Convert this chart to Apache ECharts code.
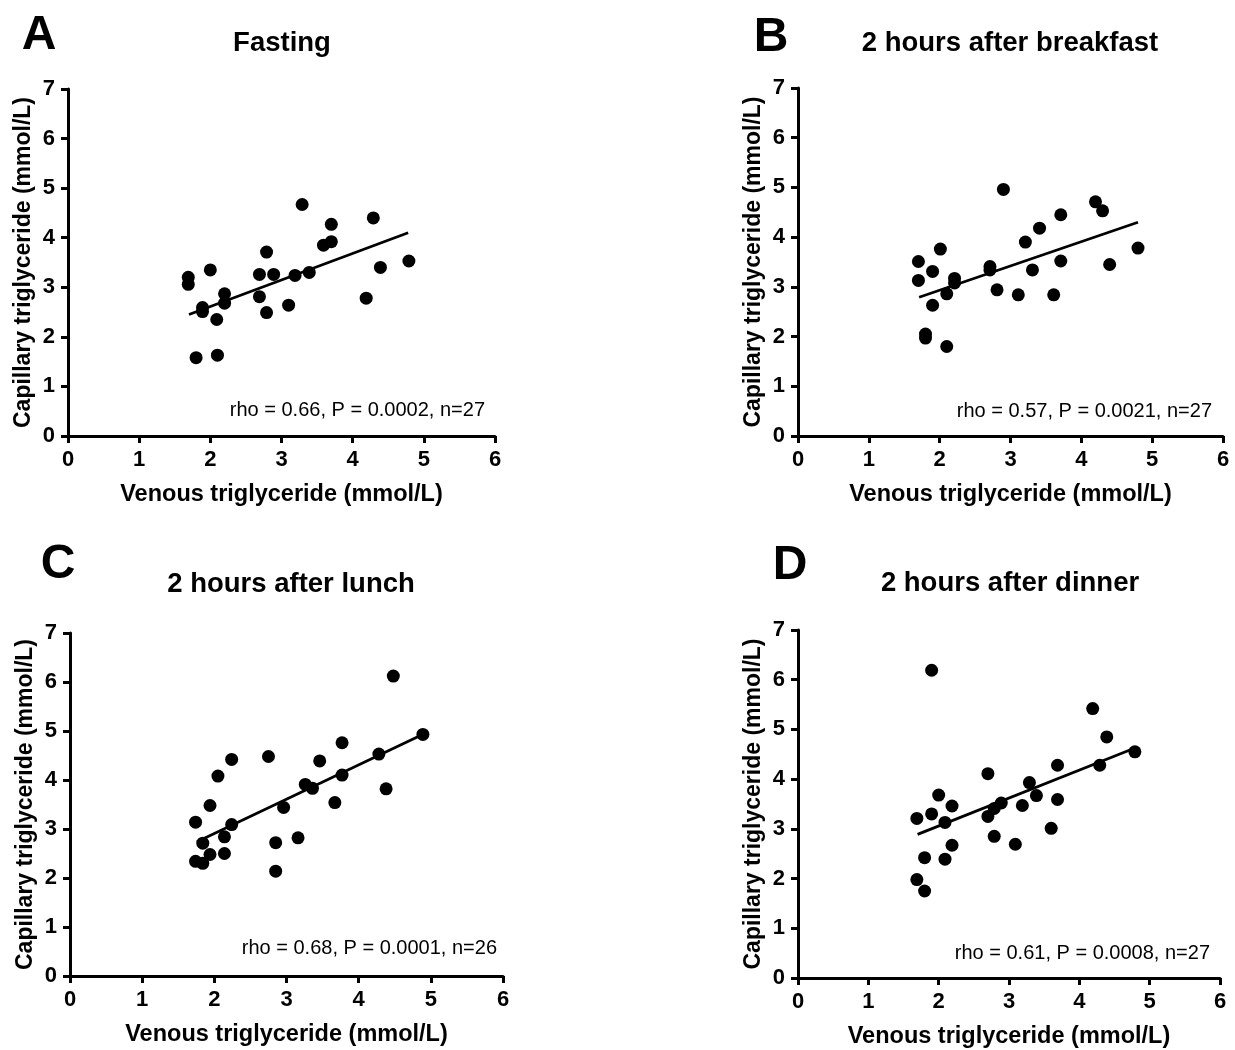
<!DOCTYPE html>
<html>
<head>
    <meta charset="utf-8">
    <title>Capillary vs venous triglyceride</title>
    <script src="https://cdn.jsdelivr.net/npm/echarts@6/dist/echarts.min.js"></script>
    <style>
        html, body { margin: 0; padding: 0; background: #fff; }
        #chart { width: 1235px; height: 1050px; }
    </style>
</head>
<body>
<div id="chart"></div>
<script type="text/javascript">
    // A - fasting
    var aX = [1.69, 1.69, 2.00, 1.89, 1.89, 2.09, 2.20, 2.20, 1.80, 2.10, 2.69, 2.69, 2.79,
              2.79, 2.89, 3.10, 3.19, 3.29, 3.39, 3.59, 3.70, 3.70, 4.19, 4.29, 4.39, 4.79];
    var aY = [3.20, 3.06, 3.35, 2.59, 2.51, 2.35, 2.87, 2.68, 1.58, 1.63, 3.26, 2.81, 3.71,
              2.49, 3.26, 2.64, 3.24, 4.67, 3.30, 3.85, 3.92, 4.27, 2.78, 4.40, 3.40, 3.53];
    var aFit = [[1.70, 2.45], [4.78, 4.10]];

    // B - 2 hours after breakfast
    var bX = [1.70, 1.70, 1.90, 1.90, 2.01, 1.80, 1.80, 2.10, 2.10, 2.21, 2.21, 2.71, 2.71,
              2.81, 2.90, 3.11, 3.21, 3.31, 3.41, 3.61, 3.71, 3.71, 4.20, 4.30, 4.40, 4.80];
    var bY = [3.51, 3.13, 3.31, 2.63, 3.76, 2.05, 1.97, 2.86, 1.80, 3.17, 3.08, 3.41, 3.34,
              2.94, 4.96, 2.84, 3.90, 3.34, 4.18, 2.84, 4.45, 3.52, 4.71, 4.53, 3.45, 3.78];
    var bFit = [[1.71, 2.79], [4.80, 4.30]];

    // C - 2 hours after lunch
    var cX = [1.74, 1.74, 1.84, 1.84, 1.94, 1.94, 2.05, 2.14, 2.14, 2.24, 2.24, 2.75, 2.85,
              2.85, 2.96, 3.16, 3.26, 3.36, 3.46, 3.67, 3.77, 3.77, 4.28, 4.38, 4.48, 4.89];
    var cY = [3.14, 2.34, 2.71, 2.30, 3.48, 2.48, 4.08, 2.84, 2.50, 4.42, 3.09, 4.48, 2.72,
              2.14, 3.44, 2.82, 3.91, 3.83, 4.39, 3.54, 4.76, 4.10, 4.53, 3.82, 6.12, 4.93];
    var cFit = [[1.76, 2.74], [4.90, 4.94]];

    // D - 2 hours after dinner
    var dX = [1.90, 1.69, 1.69, 1.80, 1.80, 1.90, 2.00, 2.09, 2.09, 2.19, 2.19, 2.70, 2.70, 2.79,
              2.79, 2.89, 3.09, 3.19, 3.29, 3.39, 3.60, 3.69, 3.69, 4.19, 4.29, 4.39, 4.79];
    var dY = [6.19, 3.21, 1.98, 2.42, 1.75, 3.30, 3.68, 3.13, 2.39, 3.46, 2.67, 4.11, 3.25, 3.41,
              2.85, 3.52, 2.69, 3.47, 3.93, 3.67, 3.01, 4.28, 3.59, 5.42, 4.28, 4.85, 4.55];
    var dFit = [[1.70, 2.89], [4.80, 4.63]];

    var panelLetters = ['A', 'B', 'C', 'D'];
    var panelTitles = ['Fasting', '2 hours after breakfast', '2 hours after lunch', '2 hours after dinner'];
    var statTexts = ['rho = 0.66, P = 0.0002, n=27', 'rho = 0.57, P = 0.0021, n=27',
                     'rho = 0.68, P = 0.0001, n=26', 'rho = 0.61, P = 0.0008, n=27'];
    var xTicks = [0, 6, 1];   // min, max, step
    var yTicks = [0, 7, 1];

    var FONT = '"Liberation Sans", Arial, Helvetica, sans-serif';

    function pairs(xs, ys) {
        var out = [];
        for (var i = 0; i < xs.length; i++) {
            out.push([xs[i], ys[i]]);
        }
        return out;
    }

    var grids = [
        {left: 68, top: 89, width: 427, height: 347},
        {left: 798, top: 88, width: 425, height: 348},
        {left: 70, top: 633, width: 433, height: 343},
        {left: 798, top: 630, width: 422, height: 350}
    ];

    var axisLineStyle = {color: '#000', width: 3};
    var xAxes = [], yAxes = [], series = [];
    var scatterData = [pairs(aX, aY), pairs(bX, bY), pairs(cX, cY), pairs(dX, dY)];
    var fits = [aFit, bFit, cFit, dFit];

    for (var i = 0; i < 4; i++) {
        xAxes.push({
            type: 'value', gridIndex: i,
            min: xTicks[0], max: xTicks[1], interval: xTicks[2],
            axisLine: {show: true, onZero: false, lineStyle: axisLineStyle},
            axisTick: {show: true, length: 7, lineStyle: {color: '#000', width: 3}},
            axisLabel: {color: '#000', fontSize: 22, fontWeight: 'bold', fontFamily: FONT, margin: 13},
            splitLine: {show: false},
            name: 'Venous triglyceride (mmol/L)',
            nameLocation: 'middle', nameGap: 47,
            nameTextStyle: {color: '#000', fontSize: 23.5, fontWeight: 'bold', fontFamily: FONT}
        });
        yAxes.push({
            type: 'value', gridIndex: i,
            min: yTicks[0], max: yTicks[1], interval: yTicks[2],
            axisLine: {show: true, onZero: false, lineStyle: axisLineStyle},
            axisTick: {show: true, length: 7, lineStyle: {color: '#000', width: 3}},
            axisLabel: {color: '#000', fontSize: 22, fontWeight: 'bold', fontFamily: FONT, margin: 13},
            splitLine: {show: false},
            name: 'Capillary triglyceride (mmol/L)',
            nameLocation: 'middle', nameGap: 33,
            nameTextStyle: {color: '#000', fontSize: 23, fontWeight: 'bold', fontFamily: FONT}
        });
        series.push({
            type: 'scatter', xAxisIndex: i, yAxisIndex: i,
            data: scatterData[i], symbol: 'circle', symbolSize: 13,
            itemStyle: {color: '#000', opacity: 1}, z: 3
        });
        series.push({
            type: 'line', xAxisIndex: i, yAxisIndex: i,
            data: fits[i], showSymbol: false, symbol: 'none',
            lineStyle: {color: '#000', width: 2.8}, z: 2
        });
    }

    // letters, titles and stat labels
    var letterPos = [[39, 36], [771, 38], [58, 565], [790, 566]];
    var titlePos = [[282, 43], [1010, 43], [291, 584], [1010, 583]];
    var statPos = [[485, 410], [1212, 411], [497, 948], [1210, 953]];
    var graphics = [];
    for (var k = 0; k < 4; k++) {
        graphics.push({
            type: 'text', x: letterPos[k][0], y: letterPos[k][1],
            style: {text: panelLetters[k], fill: '#000', font: 'bold 48px ' + FONT,
                    textAlign: 'center', textVerticalAlign: 'middle'}
        });
        graphics.push({
            type: 'text', x: titlePos[k][0], y: titlePos[k][1],
            style: {text: panelTitles[k], fill: '#000', font: 'bold 27.5px ' + FONT,
                    textAlign: 'center', textVerticalAlign: 'middle'}
        });
        graphics.push({
            type: 'text', x: statPos[k][0], y: statPos[k][1],
            style: {text: statTexts[k], fill: '#000', font: '20px ' + FONT,
                    textAlign: 'right', textVerticalAlign: 'middle'}
        });
    }

    var myChart = echarts.init(document.getElementById('chart'), null, {renderer: 'canvas'});
    myChart.setOption({
        backgroundColor: '#fff',
        animation: false,
        grid: grids,
        xAxis: xAxes,
        yAxis: yAxes,
        series: series,
        graphic: graphics
    });
</script>
</body>
</html>
